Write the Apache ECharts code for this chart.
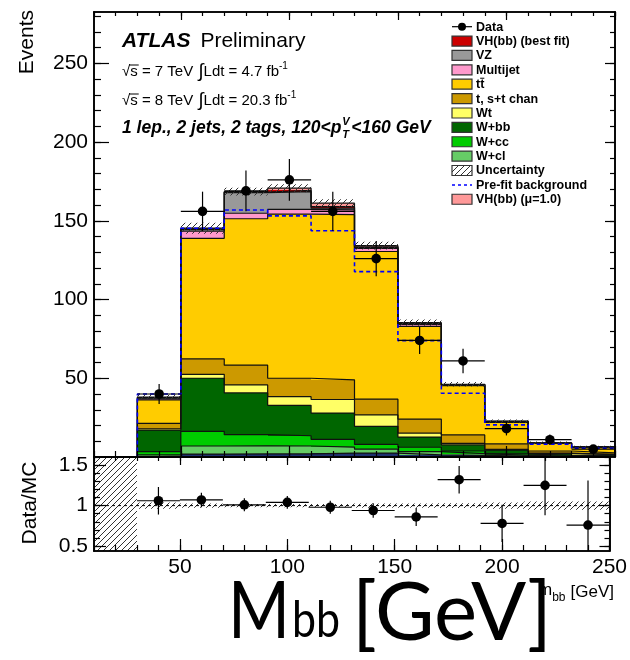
<!DOCTYPE html>
<html><head><meta charset="utf-8">
<script src="https://cdn.jsdelivr.net/npm/echarts@6/dist/echarts.min.js"></script>
<style>html,body{margin:0;padding:0;background:#fff}#c{width:630px;height:660px}</style>
</head><body><div id="c"></div>
<script>
// ---------- data ----------
const binEdges   = [30,50,70,90,110,130,150,170,190,210,230,250];
const binCenters = [40,60,80,100,120,140,160,180,200,220,240];
// per-bin contributions (events), stack order bottom -> top
const otherBkg = [0.5,1.8,2.0,2.0,2.5,2.4,1.3,1.0,0.5,0.3,0.2];
const wcl      = [0.8,5.2,5.1,5.0,3.8,2.6,2.1,1.2,0.5,0.3,0.2];
const wcc      = [2.1,9.3,7.1,6.5,4.9,3.0,2.8,1.6,1.0,0.4,0.3];
const wbb      = [13.6,33.7,26.5,19.3,16.6,11.5,6.4,3.9,2.3,1.2,0.8];
const wt       = [0.8,2.5,5.1,5.5,8.7,7.2,2.5,0.9,0.5,0.2,0.2];
const stopST   = [3.6,9.8,12.5,11.7,12.5,10.0,8.9,5.4,3.5,1.4,0.9];
const ttbar    = [14.9,76.6,93.0,104.2,104.9,93.8,59.0,31.3,13.7,4.8,3.6];
const multijet = [0.7,4.6,3.5,3.1,3.1,2.0,1.2,0.5,0.4,0.2,0.15];
const vz       = [0.6,1.0,13.1,11.2,1.0,0.5,0.3,0.1,0.1,0.05,0.05];
const vhFit    = [0.2,0.4,0.4,0.8,1.0,0.5,0.3,0.1,0.1,0.05,0.05];
const vhMu1    = [0.2,0.4,0.2,1.4,2.2,0.7,0.5,0.2,0.2,0.1,0.15];
const dataVals = [40,156,169,176,156,126,74,61,18,11,5];
const dataErr  = [6.3,12.5,13,13.3,12.5,11.2,8.6,7.8,4.3,3.3,2.2];
const preFit   = [40,145.3,156.9,153.1,143.7,117.7,73.9,40.5,20.4,8.1,5.6];
const uncert   = [1.5,3.5,2.5,2.5,2.5,2.5,2.0,1.5,1.0,0.8,0.5];
const ratioVals = [1.06,1.07,1.01,1.04,0.98,0.94,0.86,1.32,0.78,1.25,0.76];
const ratioErr  = [0.17,0.09,0.08,0.08,0.08,0.09,0.11,0.17,0.23,0.37,0.55];
const ratioUnc  = [0.04,0.025,0.02,0.02,0.02,0.025,0.025,0.03,0.04,0.05,0.05];
const xTickLabels = [50,100,150,200,250];
const yTickLabels = [50,100,150,200,250];
const rTickLabels = [0.5,1,1.5];

const X_MIN = 10, X_MAX = 250, Y_MAX = 282.6, R_MIN = 0.44, R_MAX = 1.6;

const layers = [
  {name:'Other',           vals:otherBkg, color:'#1d2f6e'},
  {name:'W+cl',            vals:wcl,      color:'#66cc66'},
  {name:'W+cc',            vals:wcc,      color:'#00cc00'},
  {name:'W+bb',            vals:wbb,      color:'#006600'},
  {name:'Wt',              vals:wt,       color:'#ffff66'},
  {name:'t, s+t chan',     vals:stopST,   color:'#cc9900'},
  {name:'ttbar',           vals:ttbar,    color:'#ffcc00'},
  {name:'Multijet',        vals:multijet, color:'#ff99cc'},
  {name:'VZ',              vals:vz,       color:'#999999'},
  {name:'VH(bb) (best fit)', vals:vhFit,  color:'#cc0000'},
  {name:'VH(bb) (mu=1.0)', vals:vhMu1,    color:'#ff9999'}
];

// ---------- helpers ----------
function makeHatch(){
  const c = document.createElement('canvas'); c.width = 6; c.height = 6;
  const g = c.getContext('2d'); g.strokeStyle = '#333'; g.lineWidth = 1;
  g.beginPath();
  g.moveTo(0,6); g.lineTo(6,0);
  g.moveTo(-1,1); g.lineTo(1,-1);
  g.moveTo(5,7); g.lineTo(7,5);
  g.stroke();
  return c;
}
const hatchFill = {image: makeHatch(), repeat: 'repeat'};

const mctx = document.createElement('canvas').getContext('2d');
function tw(t, size, weight, style, family){
  mctx.font = (style||'normal') + ' ' + (weight||'normal') + ' ' + size + 'px ' + (family||'Liberation Sans');
  return mctx.measureText(t).width;
}

function rectRender(fill){
  return function(params, api){
    const a = api.coord([api.value(0), api.value(3)]);
    const b = api.coord([api.value(1), api.value(2)]);
    const x0 = Math.round(a[0]), x1 = Math.round(b[0]);
    const y0 = Math.round(a[1]), y1 = Math.round(b[1]);
    return {type:'rect', shape:{x:x0, y:y0, width:x1-x0, height:y1-y0}, style:{fill: fill}};
  };
}
function rectRenderRaw(fill){
  return function(params, api){
    const a = api.coord([api.value(0), api.value(3)]);
    const b = api.coord([api.value(1), api.value(2)]);
    return {type:'rect', shape:{x:a[0], y:a[1], width:b[0]-a[0], height:b[1]-a[1]}, style:{fill: fill}};
  };
}
function pointRender(params, api){
  const cs = params.coordSys;
  const clampY = v => Math.max(cs.y, Math.min(cs.y + cs.height, v));
  const xl = api.coord([api.value(0), api.value(3)]);
  const xr = api.coord([api.value(1), api.value(3)]);
  const c  = api.coord([api.value(2), api.value(3)]);
  const t  = api.coord([api.value(2), api.value(3) + api.value(4)]);
  const b  = api.coord([api.value(2), api.value(3) - api.value(4)]);
  return {type:'group', children:[
    {type:'line', shape:{x1:xl[0], y1:c[1], x2:xr[0], y2:c[1]}, style:{stroke:'#000', lineWidth:1.2}},
    {type:'line', shape:{x1:c[0], y1:clampY(t[1]), x2:c[0], y2:clampY(b[1])}, style:{stroke:'#000', lineWidth:1.2}},
    {type:'circle', shape:{cx:c[0], cy:c[1], r:4.8}, style:{fill:'#000'}}
  ]};
}
function stepPoints(vals){
  const pts = [[X_MIN,0],[binEdges[0],0]];
  for (let i = 0; i < vals.length; i++){
    pts.push([binEdges[i], vals[i]]);
    pts.push([binEdges[i+1], vals[i]]);
  }
  pts.push([X_MAX, 0]);
  return pts;
}

// ---------- build series ----------
const series = [];
const cum = binCenters.map(() => 0);
const tops = [];
layers.forEach((L) => {
  const items = [];
  const top = [];
  for (let i = 0; i < binCenters.length; i++){
    const lo = cum[i], hi = cum[i] + L.vals[i];
    items.push([binEdges[i], binEdges[i+1], lo, hi]);
    cum[i] = hi; top.push(hi);
  }
  tops.push(top);
  series.push({type:'custom', name:L.name, xAxisIndex:0, yAxisIndex:0, z:2, silent:true,
    renderItem: rectRender(L.color), data: items});
});
tops.forEach(top => {
  series.push({type:'line', xAxisIndex:0, yAxisIndex:0, z:3, silent:true, showSymbol:false, symbol:'none',
    lineStyle:{color:'#111', width:1.2}, data: stepPoints(top)});
});
const total = tops[tops.length-1];
// uncertainty band
series.push({type:'custom', xAxisIndex:0, yAxisIndex:0, z:4, silent:true, renderItem: rectRenderRaw(hatchFill),
  data: total.map((t,i) => [binEdges[i], binEdges[i+1], t - uncert[i], t + uncert[i]])});
// pre-fit background
series.push({type:'line', xAxisIndex:0, yAxisIndex:0, z:5, silent:true, showSymbol:false, symbol:'none',
  lineStyle:{color:'#0000ff', width:1.6, type:[4,3]}, data: stepPoints(preFit)});
// data
series.push({type:'custom', xAxisIndex:0, yAxisIndex:0, z:6, silent:true, renderItem: pointRender,
  data: dataVals.map((v,i) => [binEdges[i], binEdges[i+1], binCenters[i], v, dataErr[i]])});

// ratio panel
series.push({type:'custom', xAxisIndex:4, yAxisIndex:4, z:4, silent:true, renderItem: rectRenderRaw(hatchFill),
  data: [[X_MIN, binEdges[0], R_MIN, R_MAX]]});
series.push({type:'custom', xAxisIndex:4, yAxisIndex:4, z:4, silent:true, renderItem: rectRenderRaw(hatchFill),
  data: ratioUnc.map((u,i) => [binEdges[i], binEdges[i+1], 1 - u, 1 + u])});
series.push({type:'line', xAxisIndex:4, yAxisIndex:4, z:5, silent:true, showSymbol:false, symbol:'none',
  lineStyle:{color:'#000', width:1, type:[3,3]}, data: [[X_MIN,1],[X_MAX,1]]});
series.push({type:'custom', xAxisIndex:4, yAxisIndex:4, z:6, silent:true, renderItem: pointRender,
  data: ratioVals.map((v,i) => [binEdges[i], binEdges[i+1], binCenters[i], v, ratioErr[i]])});

// ---------- axes ----------
const minorX = []; for (let v = 10; v <= 250; v += 10) minorX.push(v);
const minorY = []; for (let v = 10; v <= 280; v += 10) minorY.push(v);
const minorR = []; for (let k = 5; k <= 16; k++) minorR.push(k/10);
const labelStyle = {color:'#000', fontFamily:'Liberation Sans', fontSize:21};
function ax(grid, pos, min, max, ticks, len, labels, margin){
  return {type:'value', gridIndex:grid, position:pos, min:min, max:max, z:10,
    axisLine:{show:true, onZero:false, lineStyle:{color:'#000', width:1.6}},
    axisTick:{show:true, inside:true, length:len, customValues:ticks, lineStyle:{color:'#000', width:1.2}},
    axisLabel: labels ? Object.assign({show:true, customValues:labels, margin:margin||7}, labelStyle) : {show:false},
    splitLine:{show:false}, minorTick:{show:false}, axisPointer:{show:false}};
}
const xAxis = [
  ax(0,'bottom',X_MIN,X_MAX,xTickLabels,11,null),
  ax(0,'bottom',X_MIN,X_MAX,minorX,6,null),
  ax(0,'top',X_MIN,X_MAX,xTickLabels,8,null),
  ax(0,'top',X_MIN,X_MAX,minorX,4,null),
  ax(1,'bottom',X_MIN,X_MAX,xTickLabels,12,xTickLabels,6),
  ax(1,'bottom',X_MIN,X_MAX,minorX,6,null),
  ax(1,'top',X_MIN,X_MAX,xTickLabels,8,null),
  ax(1,'top',X_MIN,X_MAX,minorX,4,null)
];
const yAxis = [
  ax(0,'left',0,Y_MAX,yTickLabels,15,yTickLabels,6),
  ax(0,'left',0,Y_MAX,minorY,7,null),
  ax(0,'right',0,Y_MAX,yTickLabels,10,null),
  ax(0,'right',0,Y_MAX,minorY,5,null),
  ax(1,'left',R_MIN,R_MAX,rTickLabels,12,rTickLabels,6),
  ax(1,'left',R_MIN,R_MAX,minorR,6,null),
  ax(1,'right',R_MIN,R_MAX,rTickLabels,10,null),
  ax(1,'right',R_MIN,R_MAX,minorR,5,null)
];

// ---------- texts & legend ----------
const graphic = [];
function txt(x, y, t, size, opt){
  opt = opt || {};
  graphic.push({type:'text', x:x, y:y, z:100, rotation:opt.rot||0, scaleX:opt.sx||1, silent:true,
    style:{text:t, fontSize:size, fontFamily:opt.family||'Liberation Sans', fontWeight:opt.weight||'normal',
      fontStyle:opt.style||'normal', fill:'#000', align:opt.align||'left', verticalAlign:opt.va||'middle'}});
}
function run(x, y, pieces){
  let cx = x;
  pieces.forEach(p => {
    txt(cx, y + (p.dy||0), p.t, p.size, p);
    cx += tw(p.t, p.size, p.weight, p.style, p.family) + (p.gap||0);
  });
  return cx;
}
// axis titles
txt(27, 10, 'Events', 21, {rot:Math.PI/2, align:'right'});
txt(30, 503, 'Data/MC', 21, {rot:Math.PI/2, align:'center'});
// ATLAS block
const xA = 122;
run(xA, 41, [{t:'ATLAS', size:21, weight:'bold', style:'italic', gap:10}, {t:'Preliminary', size:21}]);
function lumiLine(y, sqrtS, lumi){
  const sW = tw('√', 15);
  const sw = tw('s', 15);
  graphic.push({type:'line', z:100, silent:true, shape:{x1:xA+sW-1, y1:y-7, x2:xA+sW+sw+1, y2:y-7}, style:{stroke:'#000', lineWidth:1}});
  run(xA, y, [{t:'√', size:15}, {t:'s = ' + sqrtS + ' TeV ', size:15, gap:1}, {t:'∫', size:19, gap:0},
    {t:'Ldt = ' + lumi + ' fb', size:15}, {t:'-1', size:10, dy:-6}]);
}
lumiLine(72, '7', '4.7');
lumiLine(101, '8', '20.3');
const e4 = run(xA, 128, [{t:'1 lep., 2 jets, 2 tags, 120<p', size:17.5, weight:'bold', style:'italic'}]);
txt(e4 + 1, 122, 'V', 11, {weight:'bold', style:'italic'});
txt(e4 + 1, 135, 'T', 11, {weight:'bold', style:'italic'});
run(e4 + 10, 128, [{t:'<160 GeV', size:17.5, weight:'bold', style:'italic'}]);

// legend
const legX = 452, legW = 20, legH = 10, legTX = 476, legY0 = 26.7, legDY = 14.38;
const legendItems = [
  {kind:'data', label:'Data'},
  {kind:'box', label:'VH(bb) (best fit)', color:'#cc0000'},
  {kind:'box', label:'VZ', color:'#999999'},
  {kind:'box', label:'Multijet', color:'#ff99cc'},
  {kind:'box', label:'tt', color:'#ffcc00', bar:true},
  {kind:'box', label:'t, s+t chan', color:'#cc9900'},
  {kind:'box', label:'Wt', color:'#ffff66'},
  {kind:'box', label:'W+bb', color:'#006600'},
  {kind:'box', label:'W+cc', color:'#00cc00'},
  {kind:'box', label:'W+cl', color:'#66cc66'},
  {kind:'hatch', label:'Uncertainty'},
  {kind:'dash', label:'Pre-fit background'},
  {kind:'box', label:'VH(bb) (μ=1.0)', color:'#ff9999'}
];
legendItems.forEach((it, i) => {
  const yc = legY0 + i*legDY;
  if (it.kind === 'data'){
    graphic.push({type:'line', z:100, silent:true, shape:{x1:legX, y1:yc, x2:legX+legW, y2:yc}, style:{stroke:'#000', lineWidth:1.2}});
    graphic.push({type:'circle', z:100, silent:true, shape:{cx:legX+legW/2, cy:yc, r:4}, style:{fill:'#000'}});
  } else if (it.kind === 'dash'){
    graphic.push({type:'line', z:100, silent:true, shape:{x1:legX, y1:yc, x2:legX+legW, y2:yc}, style:{stroke:'#0000ff', lineWidth:1.5, lineDash:[3,3]}});
  } else {
    graphic.push({type:'rect', z:100, silent:true, shape:{x:legX, y:yc-legH/2, width:legW, height:legH},
      style:{fill: it.kind === 'hatch' ? hatchFill : it.color, stroke:'#333', lineWidth:1.2}});
  }
  txt(legTX, yc + 0.5, it.label, 12.5, {weight:'bold'});
  if (it.bar){
    const w1 = tw('t', 12.5, 'bold');
    const w2 = tw('tt', 12.5, 'bold');
    graphic.push({type:'line', z:100, silent:true, shape:{x1:legTX+w1, y1:yc-6, x2:legTX+w2, y2:yc-6}, style:{stroke:'#000', lineWidth:1}});
  }
});

// original x-axis title (right aligned to axis end)
const gevW = tw('[GeV]', 17);
txt(614, 592, '[GeV]', 17, {align:'right'});
const bbW = tw('bb', 12);
txt(614 - gevW - 5, 598, 'bb', 12, {align:'right'});
txt(614 - gevW - 5 - bbW, 590, 'm', 17, {align:'right'});
// large overlay text
const mW = tw('M', 80, 'normal', 'normal', 'Lato');
const bW = tw('bb', 50, 'normal', 'normal', 'Lato');
const gW = tw('[GeV]', 82, 'normal', 'normal', 'Lato');
txt(228, 612, 'M', 80, {family:'Lato', sx: 62 / mW});
txt(292, 621, 'bb', 50, {family:'Lato', sx: 48 / bW});
txt(352, 614, '[GeV]', 82, {family:'Lato', sx: 200 / gW});

const option = {
  animation:false,
  backgroundColor:'#fff',
  grid:[
    {left:94, width:521, top:12, height:445},
    {left:94, width:521, top:457, height:94}
  ],
  xAxis: xAxis,
  yAxis: yAxis,
  series: series,
  graphic: graphic
};
const chart = echarts.init(document.getElementById('c'), null, {renderer:'canvas', width:630, height:660});
chart.setOption(option);
</script>
</body></html>
